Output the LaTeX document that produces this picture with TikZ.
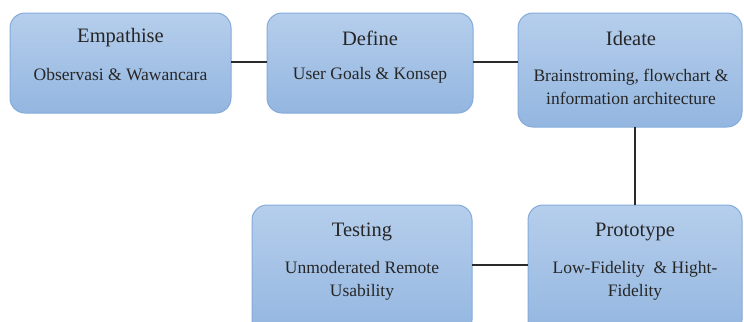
\documentclass[tikz,border=0pt]{standalone}
\usepackage{fontspec}
\setmainfont{Liberation Serif}
\usetikzlibrary{positioning}
\definecolor{boxtop}{HTML}{B6CEEC}
\definecolor{boxbot}{HTML}{93B6E0}
\definecolor{boxline}{HTML}{84ABDA}
\definecolor{linkc}{HTML}{2A2A2A}
\tikzset{
  stagebox/.style={draw=boxline, line width=1bp, rounded corners=15bp, top color=boxtop, bottom color=boxbot},
  ttl/.style={font=\fontsize{20.5bp}{20bp}\selectfont, text=black!85, inner sep=0pt, anchor=center},
  sub/.style={font=\fontsize{17.5bp}{23bp}\selectfont, text=black!85, inner sep=0pt, align=center, anchor=center},
  link/.style={draw=linkc, line width=1.2bp}
}
\begin{document}
\begin{tikzpicture}[x=1bp,y=-1bp]
\useasboundingbox (0,0) rectangle (744,321);
\begin{scope}
\clip (0,0) rectangle (744,321);
% boxes
\path[stagebox] (10,13) rectangle (231,113);
\path[stagebox] (267,13) rectangle (473,113);
\path[stagebox] (518,13) rectangle (742,127);
\path[stagebox] (252,205) rectangle (472,335);
\path[stagebox] (528,205) rectangle (742,335);
\end{scope}
% named anchors
\coordinate (empR) at (231,62);
\coordinate (defL) at (267,62);
\coordinate (defR) at (473,62);
\coordinate (ideL) at (518,62);
\coordinate (ideB) at (635,127);
\coordinate (proT) at (635,205);
\coordinate (proL) at (528,265);
\coordinate (tesR) at (472,265);
% connectors
\draw[link] (empR) -- (defL);
\draw[link] (defR) -- (ideL);
\draw[link] (ideB) -- (proT);
\draw[link] (tesR) -- (proL);
% texts
\node[ttl] (t1) at (120.5,38) {Empathise};
\node[sub] (s1) at (120.5,75) {Observasi \& Wawancara};
\node[ttl] (t2) at (370,38) {Define};
\node[sub] (s2) at (370,75) {User Goals \& Konsep};
\node[ttl] (t3) at (631,38) {Ideate};
\node[sub] (s3) at (631,87) {Brainstroming, flowchart \&\\information architecture};
\node[ttl] (t4) at (362,232) {Testing};
\node[sub] (s4) at (362,281) {Unmoderated Remote\\Usability};
\node[ttl] (t5) at (635,232) {Prototype};
\node[sub] (s5) at (635,281) {Low-Fidelity~ \& Hight-\\Fidelity};
\end{tikzpicture}
\end{document}
